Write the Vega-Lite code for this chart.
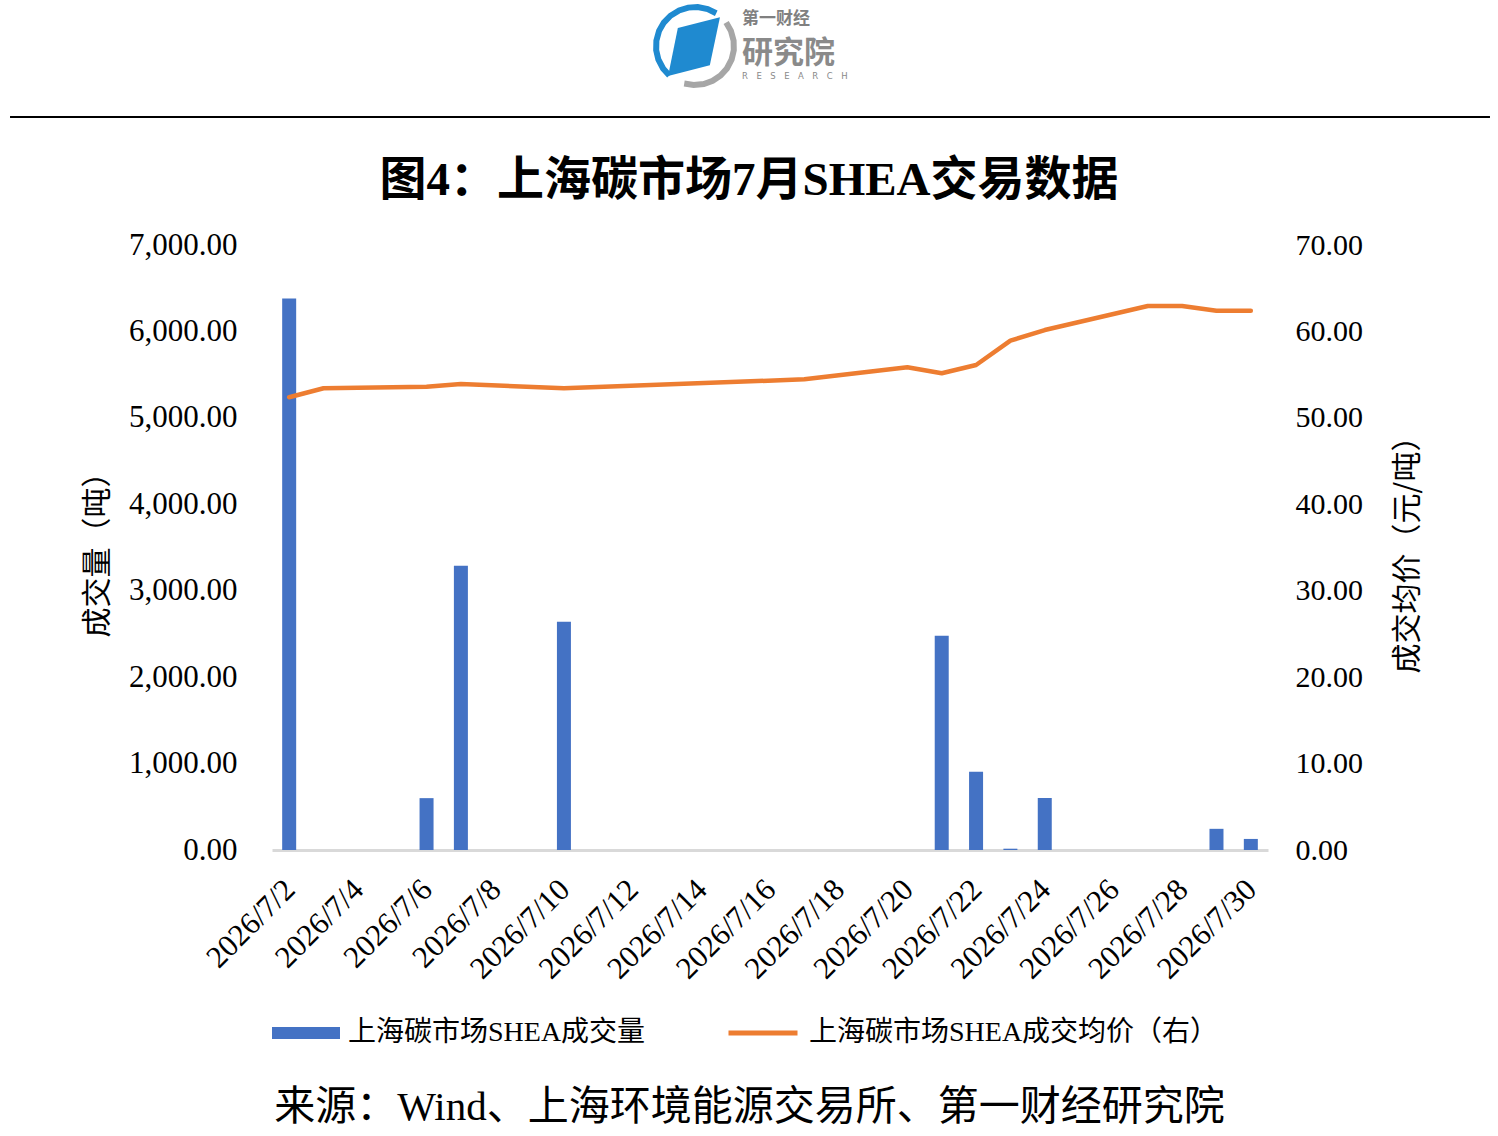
{
  "$schema": "https://vega.github.io/schema/vega-lite/v6.json",
  "width": 996,
  "height": 605,
  "autosize": {"type": "none"},
  "padding": {"left": 272, "top": 245, "right": 230, "bottom": 286},
  "background": "#ffffff",
  "config": {"view": {"stroke": null}, "scale": {"continuousPadding": 0}},
  "title": {
    "text": "图4：上海碳市场7月SHEA交易数据",
    "font": "Liberation Serif, Noto Sans CJK SC",
    "fontSize": 47,
    "fontWeight": "bold",
    "color": "#000000",
    "anchor": "middle",
    "frame": "group",
    "dx": -21,
    "offset": -210
  },
  "data": {
    "values": [
      {"date": "2026/07/02", "volume": 6380, "price": 52.38},
      {"date": "2026/07/03", "volume": null, "price": 53.42},
      {"date": "2026/07/06", "volume": 600, "price": 53.60},
      {"date": "2026/07/07", "volume": 3290, "price": 53.92},
      {"date": "2026/07/10", "volume": 2640, "price": 53.42},
      {"date": "2026/07/17", "volume": null, "price": 54.46},
      {"date": "2026/07/20", "volume": null, "price": 55.85},
      {"date": "2026/07/21", "volume": 2480, "price": 55.16},
      {"date": "2026/07/22", "volume": 905, "price": 56.12},
      {"date": "2026/07/23", "volume": 15, "price": 58.93},
      {"date": "2026/07/24", "volume": 602, "price": 60.16},
      {"date": "2026/07/27", "volume": null, "price": 62.94},
      {"date": "2026/07/28", "volume": null, "price": 62.94},
      {"date": "2026/07/29", "volume": 245, "price": 62.40},
      {"date": "2026/07/30", "volume": 128, "price": 62.40}
    ]
  },
  "layer": [
    {
      "transform": [{"filter": "datum.volume != null"}],
      "mark": {"type": "bar", "size": 14},
      "encoding": {
        "x": {
          "field": "date",
          "type": "temporal",
          "scale": {"domain": [{"year": 2026, "month": 7, "date": 1, "hours": 12}, {"year": 2026, "month": 7, "date": 30, "hours": 12}]},
          "axis": {
            "values": [
              {"year": 2026, "month": 7, "date": 2}, {"year": 2026, "month": 7, "date": 4},
              {"year": 2026, "month": 7, "date": 6}, {"year": 2026, "month": 7, "date": 8},
              {"year": 2026, "month": 7, "date": 10}, {"year": 2026, "month": 7, "date": 12},
              {"year": 2026, "month": 7, "date": 14}, {"year": 2026, "month": 7, "date": 16},
              {"year": 2026, "month": 7, "date": 18}, {"year": 2026, "month": 7, "date": 20},
              {"year": 2026, "month": 7, "date": 22}, {"year": 2026, "month": 7, "date": 24},
              {"year": 2026, "month": 7, "date": 26}, {"year": 2026, "month": 7, "date": 28},
              {"year": 2026, "month": 7, "date": 30}
            ],
            "format": "%Y/%-m/%-d",
            "labelAngle": -45,
            "labelFont": "Liberation Serif",
            "labelFontSize": 31,
            "labelColor": "#000000",
            "labelPadding": 24,
            "labelOffset": -10,
            "labelOverlap": false,
            "labelFlush": false,
            "labelBound": false,
            "ticks": false,
            "grid": false,
            "domain": true,
            "domainColor": "#d9d9d9",
            "domainWidth": 3,
            "title": "来源：Wind、上海环境能源交易所、第一财经研究院",
            "titleFont": "Liberation Serif, Noto Sans CJK SC",
            "titleFontSize": 41,
            "titleFontWeight": "normal",
            "titleColor": "#000000",
            "titleAngle": 0,
            "titleX": 477,
            "titleY": 257,
            "titleAlign": "center",
            "titleBaseline": "middle"
          }
        },
        "y": {
          "field": "volume",
          "type": "quantitative",
          "scale": {"domain": [0, 7000]},
          "axis": {
            "orient": "left",
            "values": [0, 1000, 2000, 3000, 4000, 5000, 6000, 7000],
            "format": ",.2f",
            "labelFont": "Liberation Serif",
            "labelFontSize": 31,
            "labelColor": "#000000",
            "labelPadding": 35,
            "labelBaseline": "middle",
            "domain": false,
            "ticks": false,
            "grid": false,
            "title": "成交量（吨）",
            "titleFont": "Noto Sans CJK SC",
            "titleFontSize": 30,
            "titleFontWeight": "normal",
            "titleColor": "#000000",
            "titleAngle": -90,
            "titleX": -175,
            "titleY": 302,
            "titleAlign": "center",
            "titleBaseline": "middle"
          }
        },
        "fill": {
          "datum": "上海碳市场SHEA成交量",
          "type": "nominal",
          "scale": {"range": ["#4472c4"]},
          "legend": {
            "orient": "none",
            "legendX": 0,
            "legendY": 754,
            "title": null,
            "padding": 0,
            "symbolType": "M-1,-0.18H1V0.18H-1Z",
            "symbolSize": 4624,
            "symbolStrokeWidth": 0,
            "labelFont": "Liberation Serif, Noto Sans CJK SC",
            "labelFontSize": 28,
            "labelColor": "#000000",
            "labelOffset": 8,
            "labelLimit": 1000
          }
        }
      }
    },
    {
      "transform": [{"filter": "datum.price != null"}],
      "mark": {"type": "line", "strokeWidth": 4.5, "strokeCap": "round", "strokeJoin": "round"},
      "encoding": {
        "x": {
          "field": "date",
          "type": "temporal",
          "scale": {"domain": [{"year": 2026, "month": 7, "date": 1, "hours": 12}, {"year": 2026, "month": 7, "date": 30, "hours": 12}]}
        },
        "y": {
          "field": "price",
          "type": "quantitative",
          "scale": {"domain": [0, 70]},
          "axis": {
            "orient": "right",
            "values": [0, 10, 20, 30, 40, 50, 60, 70],
            "format": ".2f",
            "labelFont": "Liberation Serif",
            "labelFontSize": 30,
            "labelColor": "#000000",
            "labelPadding": 27,
            "labelBaseline": "middle",
            "domain": false,
            "ticks": false,
            "grid": false,
            "title": "成交均价（元/吨）",
            "titleFont": "Noto Sans CJK SC",
            "titleFontSize": 30,
            "titleFontWeight": "normal",
            "titleColor": "#000000",
            "titleAngle": -90,
            "titleX": 139,
            "titleY": 302,
            "titleAlign": "center",
            "titleBaseline": "middle"
          }
        },
        "stroke": {
          "datum": "上海碳市场SHEA成交均价（右）",
          "type": "nominal",
          "scale": {"range": ["#ed7d31"]},
          "legend": {
            "orient": "none",
            "legendX": 454,
            "legendY": 751,
            "title": null,
            "padding": 0,
            "symbolType": "stroke",
            "symbolSize": 4761,
            "symbolStrokeWidth": 5,
            "labelFont": "Liberation Serif, Noto Sans CJK SC",
            "labelFontSize": 28,
            "labelColor": "#000000",
            "labelOffset": 9,
            "labelLimit": 1000
          }
        }
      }
    },
    {
      "data": {"values": [{"k": 1}]},
      "mark": {"type": "rule", "color": "#000000", "strokeWidth": 2},
      "encoding": {
        "x": {"datum": {"year": 2026, "month": 6, "date": 23, "hours": 20, "minutes": 56}, "type": "temporal"},
        "x2": {"datum": {"year": 2026, "month": 8, "date": 5, "hours": 23, "minutes": 7}},
        "y": {"datum": 8481, "type": "quantitative", "scale": {"domain": [0, 7000]}, "axis": null}
      }
    },
    {
      "data": {"values": [{"k": 1}]},
      "mark": {"type": "point", "shape": "M-0.656,0.755L-0.819,0.574L-0.940,0.342L-0.995,0.105L-0.990,-0.139L-0.921,-0.391L-0.799,-0.602L-0.629,-0.777L-0.407,-0.914L-0.174,-0.985L0.070,-0.998L0.326,-0.946L0.545,-0.839", "filled": false, "size": 6084, "strokeWidth": 6, "color": "#1f8ad0", "opacity": 1},
      "encoding": {
        "x": {"datum": {"year": 2026, "month": 7, "date": 13, "hours": 19, "minutes": 35}, "type": "temporal"},
        "y": {"datum": 9302, "type": "quantitative", "scale": {"domain": [0, 7000]}, "axis": null}
      }
    },
    {
      "data": {"values": [{"k": 1}]},
      "mark": {"type": "point", "shape": "M0.799,-0.602L0.921,-0.391L0.990,-0.139L0.995,0.105L0.940,0.342L0.819,0.574L0.656,0.755L0.454,0.891L0.225,0.974L-0.035,0.999L-0.276,0.961", "filled": false, "size": 6084, "strokeWidth": 6, "color": "#a6a6a6", "opacity": 1},
      "encoding": {
        "x": {"datum": {"year": 2026, "month": 7, "date": 13, "hours": 19, "minutes": 35}, "type": "temporal"},
        "y": {"datum": 9302, "type": "quantitative", "scale": {"domain": [0, 7000]}, "axis": null}
      }
    },
    {
      "data": {"values": [{"k": 1}]},
      "mark": {"type": "point", "shape": "M-0.44,-0.46L0.64,-0.74L0.38,0.49L-0.69,0.77Z", "filled": true, "size": 6084, "strokeWidth": 0, "color": "#1f8ad0", "opacity": 1},
      "encoding": {
        "x": {"datum": {"year": 2026, "month": 7, "date": 13, "hours": 19, "minutes": 35}, "type": "temporal"},
        "y": {"datum": 9302, "type": "quantitative", "scale": {"domain": [0, 7000]}, "axis": null}
      }
    },
    {
      "data": {"values": [{"t": "第一财经"}]},
      "mark": {"type": "text", "font": "Noto Sans CJK SC", "fontSize": 17, "fontWeight": "bold", "color": "#808080", "align": "left", "baseline": "middle"},
      "encoding": {
        "text": {"field": "t"},
        "x": {"datum": {"year": 2026, "month": 7, "date": 15, "hours": 4, "minutes": 26}, "type": "temporal"},
        "y": {"datum": 9615, "type": "quantitative", "scale": {"domain": [0, 7000]}, "axis": null}
      }
    },
    {
      "data": {"values": [{"t": "研究院"}]},
      "mark": {"type": "text", "font": "Noto Sans CJK SC", "fontSize": 31, "fontWeight": "bold", "color": "#8a8a8a", "align": "left", "baseline": "middle"},
      "encoding": {
        "text": {"field": "t"},
        "x": {"datum": {"year": 2026, "month": 7, "date": 15, "hours": 4, "minutes": 26}, "type": "temporal"},
        "y": {"datum": 9210, "type": "quantitative", "scale": {"domain": [0, 7000]}, "axis": null}
      }
    },
    {
      "data": {"values": [{"t": "R\u2003E\u2003S\u2003E\u2003A\u2003R\u2003C\u2003H"}]},
      "mark": {"type": "text", "font": "DejaVu Sans", "fontSize": 8.5, "color": "#8a8a8a", "align": "left", "baseline": "middle"},
      "encoding": {
        "text": {"field": "t"},
        "x": {"datum": {"year": 2026, "month": 7, "date": 15, "hours": 4, "minutes": 26}, "type": "temporal"},
        "y": {"datum": 8950, "type": "quantitative", "scale": {"domain": [0, 7000]}, "axis": null}
      }
    }
  ],
  "resolve": {"scale": {"y": "independent"}}
}
